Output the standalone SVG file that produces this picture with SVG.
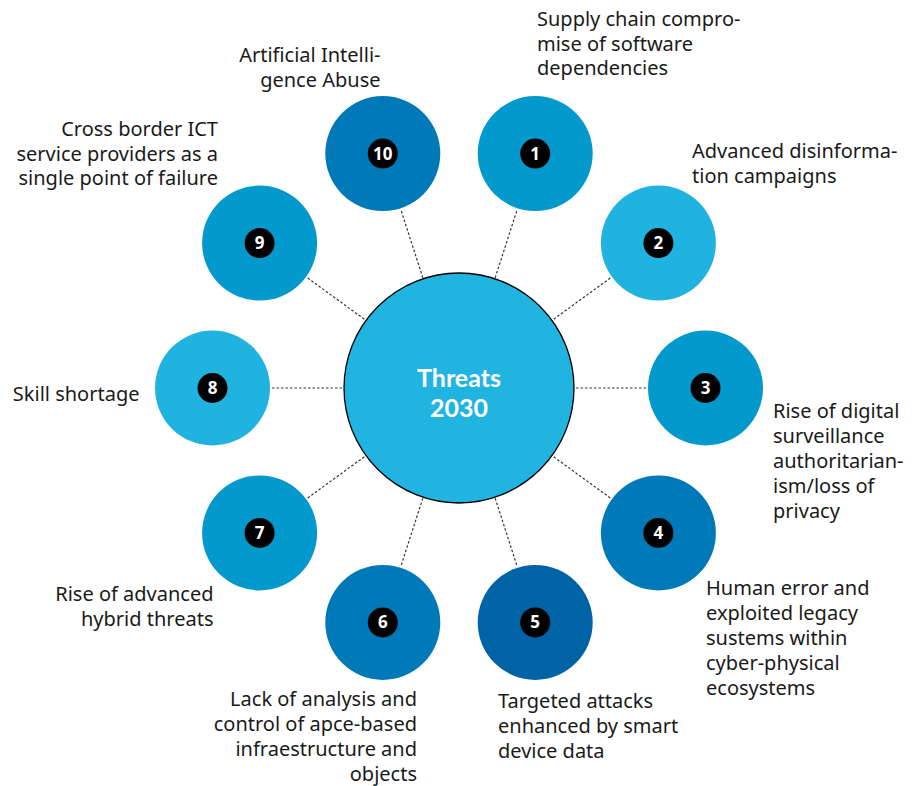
<svg xmlns="http://www.w3.org/2000/svg" width="919" height="786" viewBox="0 0 919 786">
<style>
.lbl{font-family:"Noto Sans","Open Sans",sans-serif;font-size:20px;fill:#1a1a1a}
.r{text-anchor:end}
.num{font-family:"Noto Sans","Open Sans",sans-serif;font-size:17px;font-weight:bold;fill:#fff;text-anchor:middle}
.badge{fill:#000}
.con{stroke:#333;stroke-width:1.2;stroke-dasharray:2.5 2;fill:none}
.c1{fill:#0399cc}.c2{fill:#21b3e0}.c3{fill:#0079b8}.c4{fill:#0063a6}
.ctr{font-family:Lato,"Noto Sans",sans-serif;font-size:25px;font-weight:bold;fill:#fff;text-anchor:middle}
</style>
<rect width="919" height="786" fill="#fff"/>
<g id="connectors">
<line class="con" x1="495.2" y1="277.7" x2="517.1" y2="209.8"/>
<line class="con" x1="553.7" y1="319.2" x2="611.6" y2="277.1"/>
<line class="con" x1="576" y1="388" x2="647" y2="388"/>
<line class="con" x1="553.7" y1="456.8" x2="611.6" y2="498.9"/>
<line class="con" x1="495.2" y1="498.3" x2="517.1" y2="566.2"/>
<line class="con" x1="422.8" y1="498.3" x2="400.9" y2="566.2"/>
<line class="con" x1="364.3" y1="456.8" x2="306.4" y2="498.9"/>
<line class="con" x1="342" y1="388" x2="271" y2="388"/>
<line class="con" x1="364.3" y1="319.2" x2="306.4" y2="277.1"/>
<line class="con" x1="422.8" y1="277.7" x2="400.9" y2="209.8"/>
</g>
<g id="center">
<circle cx="459" cy="388" r="115" fill="#21b4e0" stroke="#000" stroke-width="1.3"/>
<text class="ctr" x="459" y="387">Threats</text>
<text class="ctr" x="459" y="417">2030</text>
</g>
<g id="node1">
<circle class="c1" cx="535.2" cy="153.6" r="57.5"/>
<circle class="badge" cx="535.2" cy="153.6" r="15"/>
<text class="num" x="535.2" y="159.6">1</text>
<text class="lbl" x="537" y="26">Supply chain compro-</text>
<text class="lbl" x="537" y="50.5">mise of software</text>
<text class="lbl" x="537" y="75">dependencies</text>
</g>
<g id="node2">
<circle class="c2" cx="658.4" cy="243.1" r="57.5"/>
<circle class="badge" cx="658.4" cy="243.1" r="15"/>
<text class="num" x="658.4" y="249.1">2</text>
<text class="lbl" x="692" y="158">Advanced disinforma-</text>
<text class="lbl" x="692" y="183">tion campaigns</text>
</g>
<g id="node3">
<circle class="c1" cx="705.5" cy="388" r="57.5"/>
<circle class="badge" cx="705.5" cy="388" r="15"/>
<text class="num" x="705.5" y="394">3</text>
<text class="lbl" x="773" y="418">Rise of digital</text>
<text class="lbl" x="773" y="443">surveillance</text>
<text class="lbl" x="773" y="468">authoritarian-</text>
<text class="lbl" x="773" y="493">ism/loss of</text>
<text class="lbl" x="773" y="518">privacy</text>
</g>
<g id="node4">
<circle class="c3" cx="658.4" cy="532.9" r="57.5"/>
<circle class="badge" cx="658.4" cy="532.9" r="15"/>
<text class="num" x="658.4" y="538.9">4</text>
<text class="lbl" x="706" y="595">Human error and</text>
<text class="lbl" x="706" y="620">exploited legacy</text>
<text class="lbl" x="706" y="645">sustems within</text>
<text class="lbl" x="706" y="670">cyber-physical</text>
<text class="lbl" x="706" y="695">ecosystems</text>
</g>
<g id="node5">
<circle class="c4" cx="535.2" cy="622.4" r="57.5"/>
<circle class="badge" cx="535.2" cy="622.4" r="15"/>
<text class="num" x="535.2" y="628.4">5</text>
<text class="lbl" x="498" y="708">Targeted attacks</text>
<text class="lbl" x="498" y="733">enhanced by smart</text>
<text class="lbl" x="498" y="758">device data</text>
</g>
<g id="node6">
<circle class="c3" cx="382.8" cy="622.4" r="57.5"/>
<circle class="badge" cx="382.8" cy="622.4" r="15"/>
<text class="num" x="382.8" y="628.4">6</text>
<text class="lbl r" x="417" y="706">Lack of analysis and</text>
<text class="lbl r" x="417" y="731">control of apce-based</text>
<text class="lbl r" x="417" y="756">infraestructure and</text>
<text class="lbl r" x="417" y="781">objects</text>
</g>
<g id="node7">
<circle class="c1" cx="259.6" cy="532.9" r="57.5"/>
<circle class="badge" cx="259.6" cy="532.9" r="15"/>
<text class="num" x="259.6" y="538.9">7</text>
<text class="lbl r" x="213.5" y="601">Rise of advanced</text>
<text class="lbl r" x="213.5" y="626">hybrid threats</text>
</g>
<g id="node8">
<circle class="c2" cx="212.5" cy="388" r="57.5"/>
<circle class="badge" cx="212.5" cy="388" r="15"/>
<text class="num" x="212.5" y="394">8</text>
<text class="lbl r" x="139.5" y="401">Skill shortage</text>
</g>
<g id="node9">
<circle class="c1" cx="259.6" cy="243.1" r="57.5"/>
<circle class="badge" cx="259.6" cy="243.1" r="15"/>
<text class="num" x="259.6" y="249.1">9</text>
<text class="lbl r" x="218" y="136">Cross border ICT</text>
<text class="lbl r" x="218" y="160.5">service providers as a</text>
<text class="lbl r" x="218" y="185">single point of failure</text>
</g>
<g id="node10">
<circle class="c3" cx="382.8" cy="153.6" r="57.5"/>
<circle class="badge" cx="382.8" cy="153.6" r="15"/>
<text class="num" x="382.8" y="159.6">10</text>
<text class="lbl r" x="380.5" y="62">Artificial Intelli-</text>
<text class="lbl r" x="380.5" y="87">gence Abuse</text>
</g>
</svg>
